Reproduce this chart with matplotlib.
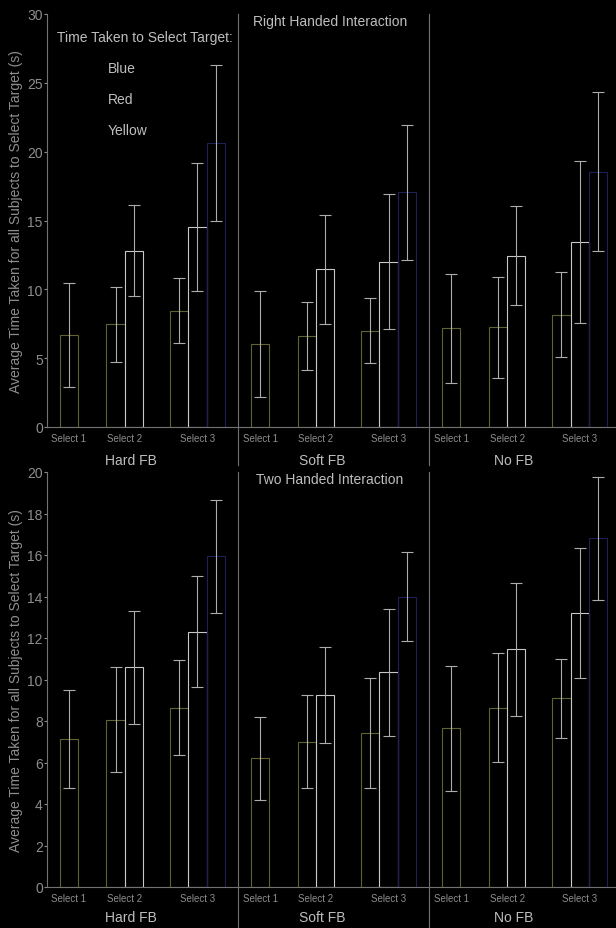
import numpy as np
import matplotlib
matplotlib.use("Agg")
import matplotlib.pyplot as plt
from matplotlib.patches import Patch
import matplotlib.transforms as mtransforms

plt.rcParams['font.family'] = ['Liberation Sans', 'DejaVu Sans']

conditions = ['Hard FB', 'Soft FB', 'No FB']
selects = ['Select 1', 'Select 2', 'Select 3']
legend_labels = ['Blue', 'Red', 'Yellow']

# one value per (condition, select) cluster: Hard S1..S3, Soft S1..S3, No S1..S3
nan = np.nan
right_yellow = [6.70, 7.45, 8.46, 6.02, 6.60, 6.99, 7.18, 7.26, 8.17]
right_yellow_sd = [3.79, 2.71, 2.33, 3.85, 2.47, 2.37, 3.96, 3.67, 3.11]
right_red = [nan, 12.82, 14.51, nan, 11.47, 12.00, nan, 12.45, 13.42]
right_red_sd = [nan, 3.30, 4.65, nan, 3.96, 4.89, nan, 3.60, 5.89]
right_blue = [nan, nan, 20.63, nan, nan, 17.05, nan, nan, 18.55]
right_blue_sd = [nan, nan, 5.70, nan, nan, 4.90, nan, nan, 5.75]

two_yellow = [7.13, 8.06, 8.65, 6.20, 7.00, 7.40, 7.65, 8.65, 9.10]
two_yellow_sd = [2.34, 2.53, 2.29, 2.00, 2.25, 2.65, 3.00, 2.63, 1.90]
two_red = [nan, 10.58, 12.31, nan, 9.25, 10.35, nan, 11.45, 13.20]
two_red_sd = [nan, 2.71, 2.69, nan, 2.30, 3.05, nan, 3.20, 3.13]
two_blue = [nan, nan, 15.94, nan, nan, 14.00, nan, nan, 16.80]
two_blue_sd = [nan, nan, 2.73, nan, nan, 2.13, nan, nan, 2.95]

# layout in bar-width units
group_w = 10.45
cluster_off = [0.7, 3.25, 6.72]

bg = 'black'
txt = '#bebebe'
tick_col = '#8e8e8e'
spine_col = '#727272'
err_col = '#acacac'
edge_cols = ['#626230', '#c8c8c8', '#202058']   # yellow, red(white), blue outlines


def draw_panel(ax, series, ymax, ystep, title, below, grp_y):
    ax.set_facecolor(bg)
    lefts = []
    for g in range(3):
        for s in range(3):
            lefts.append(g * group_w + cluster_off[s])
    lefts = np.array(lefts)
    for k, (vals, sds) in enumerate(series):
        vals = np.array(vals, dtype=float)
        sds = np.array(sds, dtype=float)
        ok = ~np.isnan(vals)
        xs = lefts[ok] + k + 0.5
        ax.bar(xs, vals[ok], width=1.0, facecolor='none',
               edgecolor=edge_cols[k], linewidth=0.8, zorder=2)
        ax.errorbar(xs, vals[ok], yerr=sds[ok], fmt='none', ecolor=err_col,
                    elinewidth=0.8, capsize=4.5, capthick=0.8, zorder=3)

    ax.set_xlim(0, 31.1)
    ax.set_ylim(0, ymax)
    ax.set_yticks(np.arange(0, ymax + 0.1, ystep))
    centers = []
    for g in range(3):
        for s in range(3):
            centers.append(g * group_w + cluster_off[s] + (s + 1) / 2.0)
    ax.set_xticks(centers)
    ax.set_xticklabels(selects * 3, fontsize=7, color=tick_col)
    ax.tick_params(axis='x', length=0, pad=4)
    ax.tick_params(axis='y', length=2, pad=1, colors=tick_col, labelsize=10)
    for side in ['top', 'right']:
        ax.spines[side].set_visible(False)
    for side in ['left', 'bottom']:
        ax.spines[side].set_color(spine_col)
        ax.spines[side].set_linewidth(0.8)

    trans = mtransforms.blended_transform_factory(ax.transData, ax.transAxes)
    for g in [1, 2]:
        ax.plot([g * group_w, g * group_w], [below, 1], transform=trans,
                color=spine_col, lw=0.8, clip_on=False, zorder=1)
    for g, name in enumerate(conditions):
        ax.text(g * group_w + 4.6, grp_y, name, transform=trans,
                ha='center', va='center', fontsize=10, color=txt)
    ax.text(15.46, 0.982, title, transform=trans, ha='center', va='center',
            fontsize=10, color=txt)
    ax.set_ylabel('Average Time Taken for all Subjects to Select Target (s)',
                  fontsize=10, color=tick_col, labelpad=3)


fig = plt.figure(figsize=(6.16, 9.29), dpi=100, facecolor=bg)
ax1 = fig.add_axes([47 / 616, 1 - 428 / 929, 569 / 616, 413 / 929])
ax2 = fig.add_axes([47 / 616, 1 - 888 / 929, 569 / 616, 415 / 929])

draw_panel(ax1, [(right_yellow, right_yellow_sd), (right_red, right_red_sd),
                 (right_blue, right_blue_sd)], 30, 5,
           'Right Handed Interaction', -0.092, -0.08)
draw_panel(ax2, [(two_yellow, two_yellow_sd), (two_red, two_red_sd),
                 (two_blue, two_blue_sd)], 20, 2,
           'Two Handed Interaction', -0.1, -0.072)

handles = [Patch(facecolor='none', edgecolor='none') for _ in legend_labels]
leg = ax1.legend(handles, legend_labels, title='Time Taken to Select Target:',
                 loc='upper left', bbox_to_anchor=(0.0176, 0.961),
                 frameon=False, borderpad=0, borderaxespad=0,
                 fontsize=10, title_fontsize=10, labelspacing=1.21,
                 handlelength=2.9, handletextpad=0.77, labelcolor=txt,
                 alignment='left')
leg.get_title().set_color(txt)

fig.savefig('out.png', dpi=100, facecolor=bg)
